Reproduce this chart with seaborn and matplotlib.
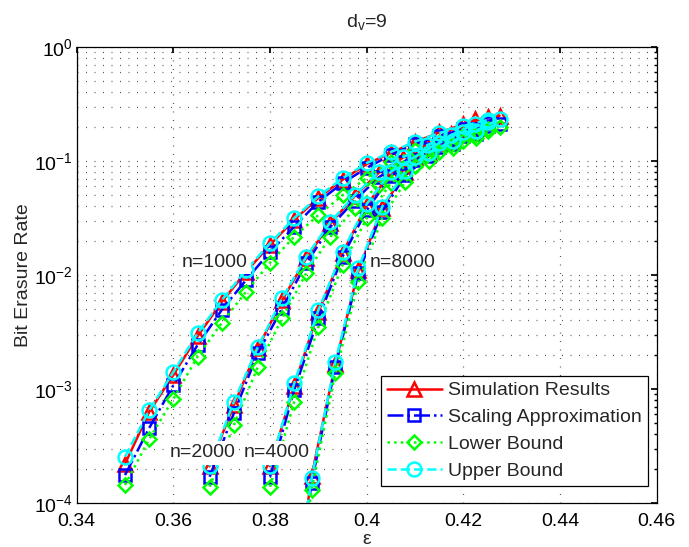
import matplotlib
matplotlib.use("Agg")
import matplotlib.pyplot as plt
from matplotlib.lines import Line2D
import pandas as pd
import seaborn as sns

# ---- data ----
# n = 1000
eps_1000 = [0.350, 0.355, 0.360, 0.365, 0.370, 0.375, 0.380, 0.385,
            0.390, 0.395, 0.400, 0.405, 0.410, 0.415, 0.420, 0.425]
sim_1000 = [2.2e-4, 6.3e-4, 1.33e-3, 2.9e-3, 5.8e-3, 1.06e-2, 1.84e-2, 3.05e-2,
            4.75e-2, 6.85e-2, 9.4e-2, 0.118, 0.147, 0.178, 0.21, 0.245]
scal_1000 = [1.76e-4, 4.55e-4, 1.08e-3, 2.43e-3, 4.93e-3, 9.0e-3, 1.6e-2, 2.65e-2,
             4.4e-2, 6.4e-2, 8.7e-2, 0.113, 0.141, 0.166, 0.19, 0.215]
low_1000 = [1.44e-4, 3.64e-4, 8.2e-4, 1.92e-3, 3.8e-3, 7.1e-3, 1.28e-2, 2.17e-2,
            3.36e-2, 5.0e-2, 7.1e-2, 9.9e-2, 0.125, 0.147, 0.169, 0.19]
up_1000 = [2.55e-4, 6.5e-4, 1.41e-3, 3.08e-3, 6.0e-3, 1.10e-2, 1.90e-2, 3.16e-2,
           4.9e-2, 7.05e-2, 9.6e-2, 0.120, 0.148, 0.176, 0.203, 0.229]

# n = 2000
eps_2000 = [0.3675, 0.3725, 0.3775, 0.3825, 0.3875, 0.3925, 0.3975, 0.4025,
            0.4075, 0.4125, 0.4175, 0.4225]
sim_2000 = [2.1e-4, 7.2e-4, 2.3e-3, 6.0e-3, 1.4e-2, 2.85e-2, 4.9e-2, 7.9e-2,
            0.107, 0.138, 0.172, 0.235]
scal_2000 = [1.7e-4, 6.1e-4, 2.07e-3, 5.1e-3, 1.27e-2, 2.65e-2, 4.5e-2, 7.2e-2,
             0.098, 0.128, 0.156, 0.19]
low_2000 = [1.39e-4, 4.8e-4, 1.57e-3, 4.17e-3, 1.04e-2, 2.17e-2, 3.85e-2, 6.2e-2,
            0.087, 0.113, 0.138, 0.17]
up_2000 = [2.1e-4, 7.7e-4, 2.35e-3, 6.25e-3, 1.45e-2, 2.93e-2, 5.0e-2, 8.05e-2,
           0.108, 0.138, 0.169, 0.212]

# n = 4000
eps_4000 = [0.380, 0.385, 0.390, 0.395, 0.400, 0.405, 0.410, 0.415, 0.420, 0.425]
sim_4000 = [2.1e-4, 1.07e-3, 4.75e-3, 1.55e-2, 4.1e-2, 7.9e-2, 0.108, 0.145, 0.185, 0.24]
scal_4000 = [1.7e-4, 9.8e-4, 4.17e-3, 1.45e-2, 3.7e-2, 7.4e-2, 0.102, 0.133, 0.166, 0.203]
low_4000 = [1.39e-4, 7.7e-4, 3.5e-3, 1.22e-2, 3.14e-2, 6.4e-2, 0.09, 0.12, 0.15, 0.183]
up_4000 = [2.1e-4, 1.12e-3, 4.93e-3, 1.6e-2, 4.2e-2, 8.05e-2, 0.109, 0.144, 0.18, 0.22]

# n = 8000
eps_8000 = [0.3837, 0.3886, 0.3935, 0.3983, 0.4032, 0.4080, 0.4129, 0.4178, 0.4226, 0.4275]
sim_8000 = [5e-6, 1.74e-4, 1.65e-3, 1.1e-2, 3.85e-2, 8.0e-2, 0.117, 0.152, 0.195, 0.25]
scal_8000 = [5e-6, 1.5e-4, 1.56e-3, 1.04e-2, 3.6e-2, 7.5e-2, 0.11, 0.14, 0.172, 0.213]
low_8000 = [4e-6, 1.3e-4, 1.37e-3, 8.7e-3, 3.16e-2, 6.6e-2, 0.1, 0.13, 0.16, 0.2]
up_8000 = [6e-6, 1.65e-4, 1.73e-3, 1.15e-2, 3.97e-2, 8.2e-2, 0.118, 0.15, 0.185, 0.232]

series_names = ["Simulation Results", "Scaling Approximation", "Lower Bound", "Upper Bound"]
n_labels = ["n=1000", "n=2000", "n=4000", "n=8000"]
n_label_x = [0.3685, 0.3660, 0.3813, 0.4074]
n_label_y = [1.3e-2, 2.75e-4, 2.75e-4, 1.3e-2]

xticks = [0.34, 0.36, 0.38, 0.40, 0.42, 0.44, 0.46]
xtick_labels = ["0.34", "0.36", "0.38", "0.4", "0.42", "0.44", "0.46"]

# ---- long table ----
frames = []
groups = [
    (1000, eps_1000, [sim_1000, scal_1000, low_1000, up_1000]),
    (2000, eps_2000, [sim_2000, scal_2000, low_2000, up_2000]),
    (4000, eps_4000, [sim_4000, scal_4000, low_4000, up_4000]),
    (8000, eps_8000, [sim_8000, scal_8000, low_8000, up_8000]),
]
for n, eps, vals in groups:
    for name, v in zip(series_names, vals):
        frames.append(pd.DataFrame({"eps": eps, "ber": v, "series": name, "n": n}))
df = pd.concat(frames, ignore_index=True)

sns.set_theme(style="white")
plt.rcParams["font.family"] = ["Liberation Sans", "DejaVu Sans"]
plt.rcParams["mathtext.fontset"] = "custom"
plt.rcParams["mathtext.rm"] = "Liberation Sans"
plt.rcParams["font.size"] = 14

styles = {
    "Simulation Results": dict(color="#ff0000", ls="-", marker="^", ms=9.5),
    "Scaling Approximation": dict(color="#0000ff", ls="-.", marker="s", ms=8.5),
    "Lower Bound": dict(color="#00ff00", ls=":", marker="D", ms=7.5),
    "Upper Bound": dict(color="#00ffff", ls="--", marker="o", ms=10),
}
LW = 1.8

fig = plt.figure(figsize=(6.89, 5.47), dpi=100)
ax = fig.add_axes([0.1113, 0.0804, 0.8418, 0.8336])
ax.set_yscale("log")

for name in series_names:
    st = styles[name]
    sub = df[df["series"] == name]
    sns.lineplot(data=sub, x="eps", y="ber", units="n", estimator=None, sort=False,
                 ax=ax, color=st["color"], linestyle=st["ls"], linewidth=LW,
                 marker=st["marker"], markersize=st["ms"], markerfacecolor="none",
                 markeredgecolor=st["color"], markeredgewidth=LW, legend=False)

# curve labels with white background (they hide the lines underneath)
for lab, lx, ly in zip(n_labels, n_label_x, n_label_y):
    ax.text(lx, ly, lab, ha="center", va="center", fontsize=14, zorder=5,
            bbox=dict(facecolor="white", edgecolor="none", pad=2.5))

ax.set_xlim(0.34, 0.46)
ax.set_ylim(1e-4, 1)
ax.set_xticks(xticks)
ax.set_xticklabels(xtick_labels)

grid_ls = (0, (0.8, 6.0))
ax.grid(True, which="major", axis="x", color="0.35", linestyle=grid_ls, linewidth=0.9)
ax.grid(True, which="both", axis="y", color="0.35", linestyle=grid_ls, linewidth=0.9)

ax.tick_params(which="both", direction="in", top=True, right=True, colors="black",
               labelsize=14)
ax.tick_params(axis="x", which="major", length=4, pad=7)
ax.tick_params(axis="y", which="major", length=4, pad=3)
ax.tick_params(axis="y", which="minor", length=2.5)
for sp in ax.spines.values():
    sp.set_color("black")
    sp.set_linewidth(0.9)

ax.set_xlabel("\u03b5", fontsize=14, labelpad=1)
ax.set_ylabel("Bit Erasure Rate", fontsize=14, labelpad=1)
ax.set_title(r"d$_\mathregular{v}$=9", fontsize=14, pad=14)

handles = [Line2D([], [], color=styles[s]["color"], linestyle=styles[s]["ls"], linewidth=LW,
                  marker=styles[s]["marker"], markersize=styles[s]["ms"],
                  markerfacecolor="none", markeredgecolor=styles[s]["color"],
                  markeredgewidth=LW) for s in series_names]
leg = ax.legend(handles, series_names, loc="lower right",
                bbox_to_anchor=((648 - 76.7) / 580, (503 - 486) / 456),
                borderaxespad=0, fontsize=14, handlelength=2.8, handletextpad=0.35,
                labelspacing=0.48, borderpad=0.3, fancybox=False, framealpha=1)
leg.get_frame().set_edgecolor("black")
leg.get_frame().set_linewidth(0.9)

fig.savefig("out.png", dpi=100)
